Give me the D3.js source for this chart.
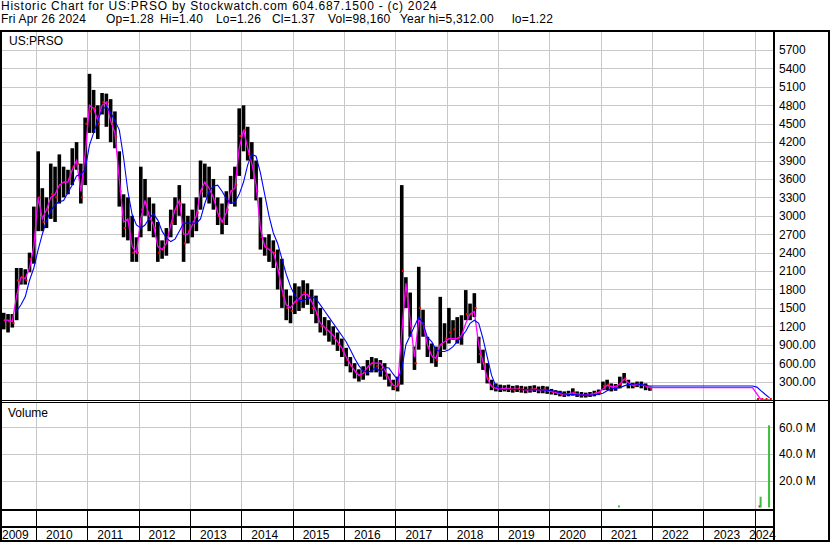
<!DOCTYPE html>
<html><head><meta charset="utf-8">
<script src="https://cdn.jsdelivr.net/npm/d3@7"></script>
<style>
body{margin:0;background:#fff}
svg{display:block}
text{font-family:"Liberation Sans",Arial,sans-serif;font-size:12px;fill:#000}
</style>
</head><body>
<svg id="c" width="830" height="543"></svg>
<script>
// ---------- DATA (monthly, starting May 2009; 2022-2023 no trading) ----------
const startMonth = "2009-05";
const high = [
  1420,1400,1400,2150,2150,2130,2400,3150,
  4050,3450,3300,3850,3800,4000,3800,3750,4100,4200,3850,4600,
  5312,5050,4800,5000,4990,4900,4700,4050,3350,3300,3000,2650,
  3800,3600,3300,3200,2900,2600,2800,3100,3300,3500,3200,3000,
  3100,3300,3900,3850,3800,3600,3300,3200,3400,3650,3800,4750,
  4800,4450,4200,3900,3300,2650,2700,2600,2450,2300,1800,1700,
  1900,1850,1950,1900,1800,1700,1500,1350,1300,1200,1100,1000,
  850,700,600,500,550,650,700,680,650,600,430,330,
  380,3500,2000,1750,870,2170,1470,1030,920,870,1680,1250,
  1500,1300,1350,1380,1790,1570,1740,1030,820,600,330,270,
  250,240,250,230,240,230,220,230,240,220,230,220,
  180,160,150,140,150,190,140,130,120,130,150,170,
  300,330,270,260,380,440,330,280,300,300,270,220,
  null,null,null,null,null,null,null,null,null,null,null,null,
  null,null,null,null,null,null,null,null,null,null,null,null,
  3,2.5,2,1.4
];
const low = [
  1150,1100,1180,1300,1880,1880,2080,2220,
  2750,2750,2800,2950,2900,3200,3300,3350,3500,3750,3200,3500,
  4350,4350,4250,4650,4450,4200,4100,3150,2650,2600,2250,2250,
  2650,3000,2750,2650,2250,2300,2350,2650,2850,3000,2250,2550,
  2650,2750,3100,3300,3200,3100,2850,2700,2850,3200,3150,3650,
  4050,3900,3600,3250,2450,2350,2250,2150,1800,1500,1300,1250,
  1400,1450,1500,1550,1400,1250,1100,1050,950,900,800,700,
  550,450,350,300,330,400,450,450,380,330,220,160,
  140,250,1500,1030,490,820,1030,700,600,540,700,820,
  920,980,920,900,1300,1300,1350,600,490,270,160,140,
  130,140,130,120,130,120,110,120,130,110,110,100,
  90,80,60,50,60,70,50,40,40,50,60,80,
  160,160,140,150,190,270,190,190,210,190,160,150,
  null,null,null,null,null,null,null,null,null,null,null,null,
  null,null,null,null,null,null,null,null,null,null,null,null,
  1.5,1.2,1.2,1.22
];
const close = [
  1300,1280,1250,1950,2000,1950,2300,2600,
  3300,2900,3100,3350,3300,3500,3550,3600,3800,3850,3300,4500,
  4700,4750,4500,4850,4850,4500,4300,3400,2800,2900,2400,2400,
  3100,3200,2950,2800,2400,2450,2600,2900,3100,3200,2550,2750,
  2900,3050,3400,3500,3400,3250,3000,2900,3100,3400,3500,4300,
  4400,4000,3800,3400,2650,2500,2450,2400,2100,1700,1500,1450,
  1600,1650,1750,1700,1500,1400,1200,1150,1100,1000,900,800,
  650,550,450,400,450,550,600,550,500,400,300,200,
  250,2100,1700,1200,600,1500,1200,850,700,650,900,1000,
  1100,1150,1000,1050,1400,1400,1500,750,600,350,220,200,
  180,190,180,170,180,170,160,170,180,160,170,150,
  130,120,100,90,100,120,90,80,80,90,110,130,
  230,250,200,210,260,350,250,230,260,250,220,180,
  null,null,null,null,null,null,null,null,null,null,null,null,
  null,null,null,null,null,null,null,null,null,null,null,null,
  2,1.5,1.3,1.37
];
// short moving average (magenta)
const maFast = [
  1300,1300,1280,1700,2000,1980,2150,2500,
  3300,2950,3100,3300,3350,3500,3550,3550,3750,3900,3400,4000,
  4800,4750,4550,4800,4850,4550,4350,3600,2900,2950,2500,2400,
  2950,3250,3000,2850,2500,2450,2550,2850,3100,3250,2700,2700,
  2850,3000,3400,3550,3450,3300,3050,2900,3050,3400,3450,4100,
  4400,4100,3850,3500,2800,2500,2450,2400,2150,1800,1550,1500,
  1600,1650,1720,1720,1600,1450,1250,1180,1120,1050,950,850,
  700,580,480,400,430,530,600,600,600,500,350,240,
  220,1100,1900,1300,700,1300,1250,900,720,680,900,950,
  1000,1000,1000,1050,1250,1400,1440,900,620,350,220,190,
  180,185,180,175,178,172,165,168,175,165,168,155,
  135,125,105,95,100,115,95,85,80,88,105,125,
  180,240,220,220,260,340,280,240,250,250,230,200,
  200,200,200,200,200,200,200,200,200,200,200,200,
  200,200,200,200,200,200,200,200,200,200,200,200,
  100,2,1.5,1.4
];
// long moving average (blue)
const maSlow = [
  null,null,null,1450,1550,1680,1950,2150,
  2450,2700,2920,3080,3180,3230,3250,3380,3500,3650,3680,3750,
  4150,4350,4550,4730,4780,4680,4550,4400,3950,3400,3020,2850,
  2800,2850,2960,3030,2930,2750,2640,2580,2620,2750,2880,2880,
  2880,2880,2950,3200,3400,3480,3500,3400,3280,3200,3220,3350,
  3550,3830,4000,3970,3700,3350,3000,2720,2550,2300,2050,1850,
  1700,1620,1620,1650,1680,1650,1550,1450,1350,1250,1150,1050,
  950,820,680,560,470,450,480,530,450,530,520,420,
  330,500,900,1050,1200,1350,1250,1020,950,820,790,790,
  820,870,950,1030,1120,1250,1300,1250,1000,700,400,230,
  175,172,170,170,172,170,168,166,168,166,165,160,
  150,140,120,100,90,90,85,80,80,80,85,95,
  110,150,180,190,200,230,250,260,260,250,240,228,
  228,228,228,228,228,228,228,228,228,228,228,228,
  228,228,228,228,228,228,228,228,228,228,228,228,
  210,150,90,35
];
// volume (millions)
const volDates = ["2021-05-10","2024-02-05","2024-02-12","2024-04-12"];
const volValues = [1.5,1.5,8,61.5];
const volUp = [true,false,true,true];
// axis labels
const priceTicks = [300,600,900,1200,1500,1800,2100,2400,2700,3000,3300,3600,3900,4200,4500,4800,5100,5400,5700];
const volTicks = [20,40,60];
const years = [2009,2010,2011,2012,2013,2014,2015,2016,2017,2018,2019,2020,2021,2022,2023,2024];
const title1 = "Historic Chart for US:PRSO by Stockwatch.com 604.687.1500 - (c) 2024";
const title2Parts = ["Fri Apr 26 2024","Op=1.28","Hi=1.40","Lo=1.26","Cl=1.37","Vol=98,160","Year hi=5,312.00","lo=1.22"];
const title2X = [1,106,160,216,272,328,400,512];

// ---------- LAYOUT ----------
const svg = d3.select("#c");
const PL = 2, PR = 772.5, PT = 32, PB = 400, VT = 403, VB = 509;
const x = d3.scaleUtc().domain([Date.UTC(2010,0,1), Date.UTC(2024,0,1)]).range([36, 754.7]);
const y = d3.scaleLinear().domain([0, 6000]).range([400, 31.6]);
const yv = d3.scaleLinear().domain([0, 80]).range([507.4, 400.6]);
const parseM = d3.utcParse("%Y-%m"), parseD = d3.utcParse("%Y-%m-%d");
const m0 = parseM(startMonth);
const rows = high.map((h,i)=>{
  const d0 = d3.utcMonth.offset(m0, i), d1 = d3.utcMonth.offset(d0, 1);
  return {xc:(x(d0)+x(d1))/2, hi:h, lo:low[i], cl:close[i], f:maFast[i], s:maSlow[i]};
});

const defs = svg.append("defs");
defs.append("clipPath").attr("id","cp").append("rect").attr("x",PL).attr("y",PT).attr("width",PR-PL).attr("height",PB-PT);
defs.append("clipPath").attr("id","cv").append("rect").attr("x",PL).attr("y",VT).attr("width",PR-PL).attr("height",VB-VT);

// gridlines
const grid = svg.append("g").attr("stroke","#c8c8c8").attr("stroke-width",1).attr("shape-rendering","crispEdges");
priceTicks.forEach(t=>grid.append("line").attr("x1",PL).attr("x2",PR).attr("y1",Math.round(y(t))+0.5).attr("y2",Math.round(y(t))+0.5));
volTicks.forEach(t=>grid.append("line").attr("x1",PL).attr("x2",PR).attr("y1",Math.round(yv(t))+0.5).attr("y2",Math.round(yv(t))+0.5));
years.slice(1).forEach(yr=>{
  const xx = Math.round(x(Date.UTC(yr,0,1)))+0.5;
  grid.append("line").attr("x1",xx).attr("x2",xx).attr("y1",PT).attr("y2",PB);
  grid.append("line").attr("x1",xx).attr("x2",xx).attr("y1",VT).attr("y2",VB);
});

// price bars
const gp = svg.append("g").attr("clip-path","url(#cp)");
const bars = rows.filter(r=>r.hi!=null);
gp.selectAll("rect.bar").data(bars).join("rect").attr("class","bar")
  .attr("x",d=>d.xc-1.8).attr("width",3.6)
  .attr("y",d=>y(d.hi)).attr("height",d=>Math.max(1.5, y(d.lo)-y(d.hi)))
  .attr("fill","#000");
gp.selectAll("rect.cl").data(bars).join("rect").attr("class","cl")
  .attr("x",d=>d.xc+0.2).attr("width",2)
  .attr("y",d=>Math.min(y(d.cl)-1, 398)).attr("height",2)
  .attr("fill","#ff0000");

// moving averages
const lineF = d3.line().defined(d=>d.f!=null).x(d=>d.xc).y(d=>y(d.f));
const lineS = d3.line().defined(d=>d.s!=null).x(d=>d.xc).y(d=>y(d.s));
gp.append("path").datum(rows).attr("d",lineF).attr("fill","none").attr("stroke","#ff00ff").attr("stroke-width",1.3);
gp.append("path").datum(rows).attr("d",lineS).attr("fill","none").attr("stroke","#0000ff").attr("stroke-width",1.1);

// volume bars
const gv = svg.append("g").attr("clip-path","url(#cv)");
gv.selectAll("rect").data(volDates).join("rect")
  .attr("x",(d)=>x(parseD(d))-1).attr("width",2)
  .attr("y",(d,i)=>yv(volValues[i])).attr("height",(d,i)=>yv(0)-yv(volValues[i]))
  .attr("fill",(d,i)=>volUp[i]?"#3cbf3c":"#e00000");

// right axes
const fmtP = v => v < 1000 ? v.toFixed(2) : String(v);
const axP = svg.append("g").attr("transform",`translate(${PR+1},0)`)
  .call(d3.axisRight(y).tickValues(priceTicks).tickSize(0).tickPadding(5.5).tickFormat(fmtP));
const axV = svg.append("g").attr("transform",`translate(${PR+1},0)`)
  .call(d3.axisRight(yv).tickValues(volTicks).tickSize(0).tickPadding(5.5).tickFormat(v=>v.toFixed(1)+" M"));
[axP,axV].forEach(a=>{a.select(".domain").remove(); a.selectAll("text").attr("font-size",null).attr("font-family",null).attr("fill","#000");});

// frame lines
const fr = svg.append("g").attr("stroke","#000").attr("shape-rendering","crispEdges");
const ln = (x1,y1,x2,y2,w)=>fr.append("line").attr("x1",x1).attr("y1",y1).attr("x2",x2).attr("y2",y2).attr("stroke-width",w);
ln(0,31,830,31,2);
ln(1,31,1,542,2);
ln(773.5,31,773.5,542,2);
ln(828.5,31,828.5,542,2);
ln(0,541,830,541,2);
ln(0,400.5,830,400.5,1);
ln(0,402.5,773,402.5,1);
ln(0,509.5,773,509.5,2);
ln(0,526.5,773,526.5,2);
years.slice(1).forEach(yr=>{
  const xx = Math.round(x(Date.UTC(yr,0,1)))+0.5;
  ln(xx,510,xx,541,1);
});

// year labels
svg.append("g").selectAll("text").data(years).join("text")
  .attr("x",yr=>Math.max(2, Math.min(x(Date.UTC(yr,0,1))+10, 749)))
  .attr("y",539).text(yr=>yr);

// titles
svg.append("text").attr("x",1).attr("y",9.5).style("letter-spacing","0.75px").text(title1);
svg.append("g").selectAll("text").data(title2Parts).join("text")
  .attr("x",(d,i)=>title2X[i]).attr("y",23).style("letter-spacing","0.2px").text(d=>d);
svg.append("text").attr("x",9).attr("y",45).text("US:PRSO");
svg.append("text").attr("x",8).attr("y",417).text("Volume");
</script>
</body></html>
